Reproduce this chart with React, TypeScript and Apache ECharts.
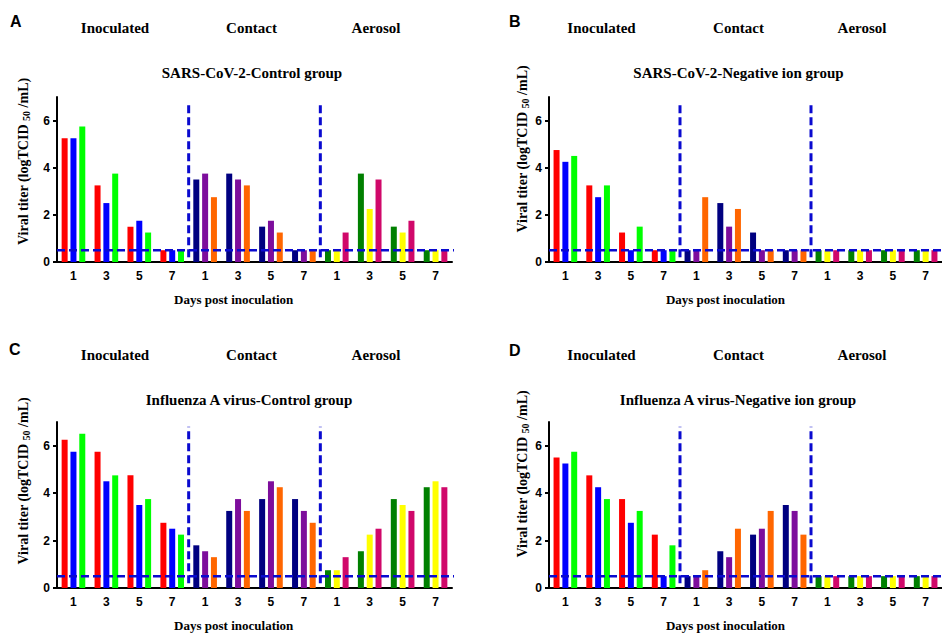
import React, { useEffect, useRef } from "react";
import * as echarts from "echarts";

const days = ["1", "3", "5", "7"];
const categories = [...days, ...days, ...days];
const sectionNames = ["Inoculated", "Contact", "Aerosol"];
const panelLetters = ["A", "B", "C", "D"];
const panelTitles = [
  "SARS-CoV-2-Control group",
  "SARS-CoV-2-Negative ion group",
  "Influenza A virus-Control group",
  "Influenza A virus-Negative ion group",
];
const yTicks = [0, 2, 4, 6];
const detectionLimit = 0.5;

// Panel A: SARS-CoV-2 control (animal 1, 2, 3 per day; Inoculated | Contact | Aerosol)
const sarsControl1 = [5.25, 3.25, 1.5, 0.5, 3.5, 3.75, 1.5, 0.5, 0.5, 3.75, 1.5, 0.5];
const sarsControl2 = [5.25, 2.5, 1.75, 0.5, 3.75, 3.5, 1.75, 0.5, 0.5, 2.25, 1.25, 0.5];
const sarsControl3 = [5.75, 3.75, 1.25, 0.5, 2.75, 3.25, 1.25, 0.5, 1.25, 3.5, 1.75, 0.5];

// Panel B: SARS-CoV-2 negative ion
const sarsIon1 = [4.75, 3.25, 1.25, 0.5, 0.5, 2.5, 1.25, 0.5, 0.5, 0.5, 0.5, 0.5];
const sarsIon2 = [4.25, 2.75, 0.5, 0.5, 0.5, 1.5, 0.5, 0.5, 0.5, 0.5, 0.5, 0.5];
const sarsIon3 = [4.5, 3.25, 1.5, 0.5, 2.75, 2.25, 0.5, 0.5, 0.5, 0.5, 0.5, 0.5];

// Panel C: Influenza A control
const fluControl1 = [6.25, 5.75, 4.75, 2.75, 1.8, 3.25, 3.75, 3.75, 0.75, 1.55, 3.75, 4.25];
const fluControl2 = [5.75, 4.5, 3.5, 2.5, 1.55, 3.75, 4.5, 3.25, 0.75, 2.25, 3.5, 4.5];
const fluControl3 = [6.5, 4.75, 3.75, 2.25, 1.3, 3.25, 4.25, 2.75, 1.3, 2.5, 3.25, 4.25];

// Panel D: Influenza A negative ion
const fluIon1 = [5.5, 4.75, 3.75, 2.25, 0.5, 1.55, 2.25, 3.5, 0.5, 0.5, 0.5, 0.5];
const fluIon2 = [5.25, 4.25, 2.75, 0.5, 0.5, 1.3, 2.5, 3.25, 0.5, 0.5, 0.5, 0.5];
const fluIon3 = [5.75, 3.75, 3.25, 1.8, 0.75, 2.5, 3.25, 2.25, 0.5, 0.5, 0.5, 0.5];

const panelData = [
  [sarsControl1, sarsControl2, sarsControl3],
  [sarsIon1, sarsIon2, sarsIon3],
  [fluControl1, fluControl2, fluControl3],
  [fluIon1, fluIon2, fluIon3],
];

const sectionColors = [
  ["#FF0000", "#0000FF", "#00FF00"],
  ["#000080", "#7D0D9C", "#FF6600"],
  ["#008000", "#FFFF00", "#D0086A"],
];

const grids = [
  { left: 57, top: 97, width: 395, height: 165 },
  { left: 549, top: 97, width: 394, height: 165 },
  { left: 57, top: 422, width: 395, height: 166 },
  { left: 549, top: 422, width: 394, height: 166 },
];

const layoutText = [
  { letter: [10, 21], heads: [115, 251.5, 376], headY: 28, title: [252, 73], yName: [23, 161.5], xName: [233.7, 299] },
  { letter: [509, 21], heads: [601.5, 738.5, 862], headY: 28, title: [738.5, 73], yName: [522.5, 149], xName: [725.5, 299] },
  { letter: [9, 349], heads: [115, 251.5, 376], headY: 355, title: [249, 400], yName: [23, 481], xName: [233.7, 625] },
  { letter: [509, 350], heads: [601.5, 738.5, 862], headY: 355, title: [738, 400], yName: [522.5, 474], xName: [725.5, 625] },
];

const SERIF = "Liberation Serif";
const SANS = "Liberation Sans";
const LINE_BLUE = "#0A0ACF";

function txt(x: number, y: number, text: string, family: string, size: number, align: string, extra: any = {}) {
  return {
    type: "text",
    x,
    y,
    ...extra,
    style: {
      text,
      fontFamily: family,
      fontSize: size,
      fontWeight: "bold",
      fill: "#000",
      textAlign: align,
      textVerticalAlign: "middle",
      align,
      verticalAlign: "middle",
      ...(extra.styleExtra || {}),
    },
  };
}

function buildOption() {
  const xAxis: any[] = [];
  const yAxis: any[] = [];
  const series: any[] = [];
  const graphic: any[] = [];

  grids.forEach((g, i) => {
    xAxis.push({
      type: "category",
      gridIndex: i,
      data: categories,
      boundaryGap: true,
      axisLine: { lineStyle: { color: "#000", width: 2 } },
      axisTick: { alignWithLabel: true, length: 4, lineStyle: { color: "#000", width: 2 } },
      axisLabel: { color: "#000", fontFamily: SANS, fontWeight: "bold", fontSize: 12, margin: 8 },
      splitLine: { show: false },
    });
    xAxis.push({
      type: "value",
      gridIndex: i,
      min: 0,
      max: 12,
      show: false,
    });
    yAxis.push({
      type: "value",
      gridIndex: i,
      min: 0,
      max: 7,
      interval: 2,
      axisLine: { show: true, lineStyle: { color: "#000", width: 2 } },
      axisTick: { show: true, length: 4, customValues: yTicks, lineStyle: { color: "#000", width: 2 } },
      axisLabel: { color: "#000", fontFamily: SANS, fontWeight: "bold", fontSize: 12, margin: 7, customValues: yTicks },
      splitLine: { show: false },
    });

    panelData[i].forEach((arr, k) => {
      series.push({
        type: "bar",
        xAxisIndex: 2 * i,
        yAxisIndex: i,
        data: arr,
        barWidth: 6,
        barGap: "47%",
        itemStyle: {
          color: (p: any) => sectionColors[Math.floor(p.dataIndex / 4)][k],
        },
        z: 2,
      });
    });

    series.push({
      type: "line",
      xAxisIndex: 2 * i + 1,
      yAxisIndex: i,
      data: [
        [0, detectionLimit],
        [12.15, detectionLimit],
      ],
      symbol: "none",
      clip: false,
      lineStyle: { color: LINE_BLUE, width: 2.5, type: [8, 4] },
      z: 5,
    });
    [4, 8].forEach((xv) => {
      series.push({
        type: "line",
        xAxisIndex: 2 * i + 1,
        yAxisIndex: i,
        data: [
          [xv, 0.2],
          [xv, 6.8],
        ],
        symbol: "none",
        clip: false,
        lineStyle: { color: LINE_BLUE, width: 3, type: [8, 4] },
        z: 5,
      });
    });

    const t = layoutText[i];
    graphic.push(txt(t.letter[0], t.letter[1], panelLetters[i], SANS, 16, "left"));
    sectionNames.forEach((name, s) => {
      graphic.push(txt(t.heads[s], t.headY, name, SERIF, 15, "center"));
    });
    graphic.push(txt(t.title[0], t.title[1], panelTitles[i], SERIF, 15, "center"));
    graphic.push(txt(t.xName[0], t.xName[1], "Days post inoculation", SERIF, 13, "center"));
    graphic.push(
      txt(t.yName[0], t.yName[1], "Viral titer (logTCID {sub|50} /mL)", SERIF, 14, "center", {
        rotation: Math.PI / 2,
        styleExtra: {
          rich: {
            sub: {
              fontFamily: SERIF,
              fontWeight: "bold",
              fontSize: 10,
              fill: "#000",
              padding: [6, 0, 0, 0],
            },
          },
        },
      })
    );
  });

  graphic.forEach((g) => {
    delete g.styleExtra;
  });

  return {
    animation: false,
    backgroundColor: "#ffffff",
    grid: grids.map((g) => ({ ...g, containLabel: false })),
    xAxis,
    yAxis,
    series,
    graphic,
  };
}

export default function App() {
  const ref = useRef<HTMLDivElement>(null);
  useEffect(() => {
    if (!ref.current) return;
    const chart = echarts.init(ref.current, undefined, { renderer: "svg" });
    chart.setOption(buildOption() as any);
    return () => chart.dispose();
  }, []);
  return (
    <div
      ref={ref}
      style={{ position: "absolute", left: 0, top: 0, width: 942, height: 633, background: "#fff" }}
    />
  );
}
